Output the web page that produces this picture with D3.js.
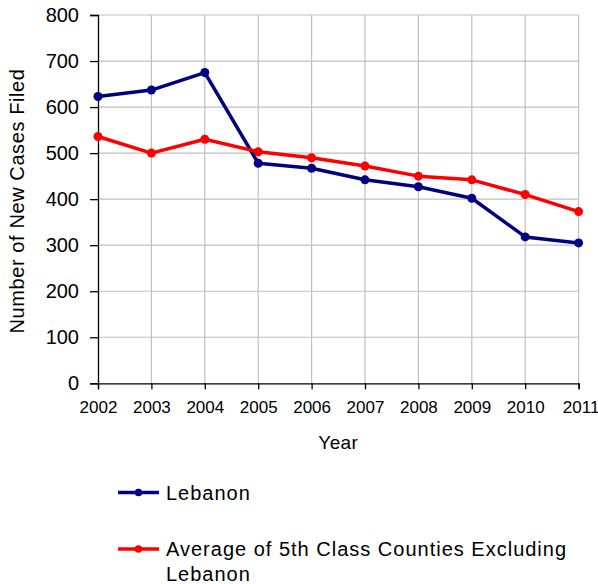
<!DOCTYPE html>
<html>
<head>
<meta charset="utf-8">
<script src="https://cdn.jsdelivr.net/npm/d3@7"></script>
<style>
  body { margin: 0; background: #fff; overflow: hidden; }
  svg { display: block; font-family: "Liberation Sans", Arial, sans-serif; }
</style>
</head>
<body>
<div id="graf"></div>
<script>
const anios = [2002, 2003, 2004, 2005, 2006, 2007, 2008, 2009, 2010, 2011]
const lebanon = [623, 637, 675, 478, 467, 442, 427, 402, 318, 305]
const promedio = [536, 500, 530, 503, 490, 472, 450, 442, 410, 373]
const yTicks = [0, 100, 200, 300, 400, 500, 600, 700, 800]

const series = [
    { nombre: 'Lebanon', valores: lebanon, color: '#000080' },
    { nombre: 'Average of 5th Class Counties Excluding|Lebanon', valores: promedio, color: '#ff0000' },
]

const anchoTotal = 598
const altoTotal = 584
const margen = { left: 98, top: 15, right: 19.4, bottom: 200.7 }
const ancho = anchoTotal - margen.left - margen.right
const alto = altoTotal - margen.top - margen.bottom

const svg = d3.select('#graf').append('svg')
    .attr('width', anchoTotal)
    .attr('height', altoTotal)

const g = svg.append('g')
    .attr('transform', `translate(${margen.left},${margen.top})`)

const x = d3.scalePoint().domain(anios).range([0, ancho])
const y = d3.scaleLinear().domain([0, 800]).range([alto, 0])

// grid
g.selectAll('.hgrid').data(yTicks.filter(d => d > 0)).enter()
    .append('line')
    .attr('x1', 0).attr('x2', ancho)
    .attr('y1', d => y(d)).attr('y2', d => y(d))
    .attr('stroke', '#c0c0c0').attr('stroke-width', 1.2)
g.selectAll('.vgrid').data(anios.slice(1)).enter()
    .append('line')
    .attr('x1', d => x(d)).attr('x2', d => x(d))
    .attr('y1', 0).attr('y2', alto)
    .attr('stroke', '#c0c0c0').attr('stroke-width', 1.2)

// axes
const ejeY = g.append('g')
    .call(d3.axisLeft(y).tickValues(yTicks).tickSize(8).tickPadding(11))
ejeY.select('.domain').attr('stroke', '#000').attr('stroke-width', 1.3)
ejeY.selectAll('.tick line').attr('stroke', '#000').attr('stroke-width', 1.3)
ejeY.selectAll('text').attr('font-size', 20).attr('fill', '#000')
    .attr('font-family', '"Liberation Sans", Arial, sans-serif')

const ejeX = g.append('g')
    .attr('transform', `translate(0,${alto})`)
    .call(d3.axisBottom(x).tickSize(6).tickPadding(12).tickFormat(d3.format('d')))
ejeX.select('.domain').attr('stroke', '#000').attr('stroke-width', 1.3)
ejeX.selectAll('.tick line').attr('stroke', '#000').attr('stroke-width', 1.3)
ejeX.selectAll('text').attr('font-size', 17).attr('fill', '#000')
    .attr('font-family', '"Liberation Sans", Arial, sans-serif')
// the last year label sits a little to the right, as in the original
ejeX.selectAll('.tick text').filter(d => d === anios[anios.length - 1])
    .attr('dx', 2)

// titles
svg.append('text')
    .attr('x', margen.left + ancho / 2)
    .attr('y', 449)
    .attr('text-anchor', 'middle')
    .attr('font-size', 19)
    .attr('letter-spacing', 0.4)
    .text('Year')

svg.append('text')
    .attr('transform', `translate(24,201) rotate(-90)`)
    .attr('text-anchor', 'middle')
    .attr('font-size', 20)
    .attr('letter-spacing', 0.6)
    .text('Number of New Cases Filed')

// lines
const linea = d3.line()
    .x((d, i) => x(anios[i]))
    .y(d => y(d))

series.forEach(s => {
    g.append('path')
        .datum(s.valores)
        .attr('d', linea)
        .attr('fill', 'none')
        .attr('stroke', s.color)
        .attr('stroke-width', 3.5)
        .attr('stroke-linejoin', 'round')
    g.selectAll(null).data(s.valores).enter()
        .append('circle')
        .attr('cx', (d, i) => x(anios[i]))
        .attr('cy', d => y(d))
        .attr('r', 4.5)
        .attr('fill', s.color)
})

// legend
const leyendaY = [492.5, 549]
series.forEach((s, i) => {
    const lg = svg.append('g').attr('transform', `translate(0,${leyendaY[i]})`)
    lg.append('line')
        .attr('x1', 118).attr('x2', 159)
        .attr('stroke', s.color).attr('stroke-width', 3.5)
    lg.append('circle').attr('cx', 138.5).attr('r', 3.8).attr('fill', s.color)
    const t = lg.append('text')
        .attr('x', 166)
        .attr('font-size', 20)
        .attr('letter-spacing', 1)
    s.nombre.split('|').forEach((linea, j) => {
        t.append('tspan')
            .attr('x', 166)
            .attr('y', j * 25 + 7)
            .text(linea)
    })
})
</script>
</body>
</html>
